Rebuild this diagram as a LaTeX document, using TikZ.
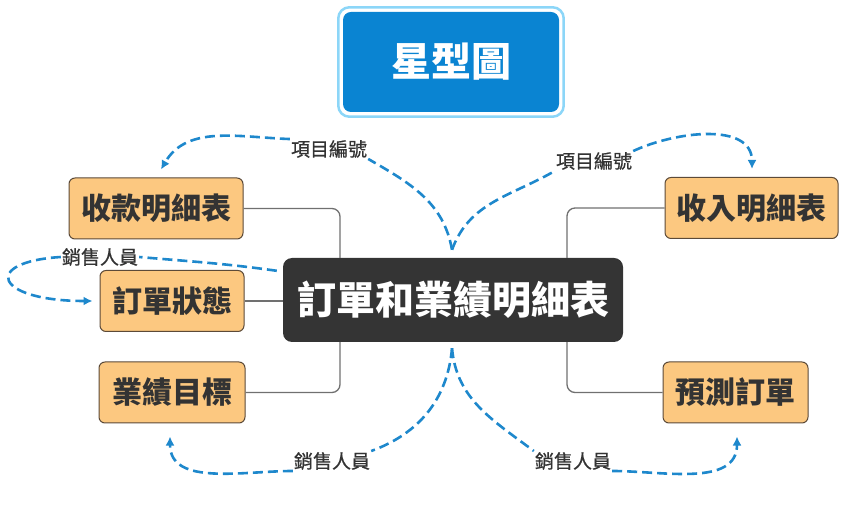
\documentclass[tikz,border=0pt]{standalone}
\usepackage{fontspec}
\usetikzlibrary{arrows.meta}
\newfontfamily\cjk{Noto Sans CJK TC}
\newfontfamily\cjktag{Noto Sans CJK TC}[FakeBold=0.7]
\definecolor{flowblue}{RGB}{30,136,204}
\definecolor{titleblue}{RGB}{10,132,210}
\definecolor{titleedge}{RGB}{140,214,248}
\definecolor{mainfill}{RGB}{52,52,52}
\definecolor{leaffill}{RGB}{252,200,128}
\definecolor{leafedge}{RGB}{92,74,56}
\definecolor{darktext}{RGB}{51,51,51}
\definecolor{linkgray}{RGB}{112,112,112}

\begin{document}
\begin{tikzpicture}[x=1pt,y=1pt,
    leaf/.style={draw=leafedge, line width=1pt, fill=leaffill, rounded corners=6pt, text=darktext, inner sep=0pt, minimum height=61pt, font=\cjk\bfseries\fontsize{30}{30}\selectfont},
    tag/.style={fill=white, inner sep=1pt, text=darktext, font=\cjktag\fontsize{19}{19}\selectfont},
    link/.style={draw=linkgray, line width=1.3pt, rounded corners=8pt},
    flow/.style={draw=flowblue, line width=2.6pt, dash pattern=on 10pt off 5pt, -{Latex[length=9pt,width=9pt]}},
    flowin/.style={draw=flowblue, line width=2.6pt, dash pattern=on 10pt off 5pt}]
    \useasboundingbox (0,0) rectangle (866,527);
    \node [fill=titleblue, rounded corners=8pt, minimum width=216pt, minimum height=100pt, inner sep=0pt, text=white, font=\cjk\bfseries\fontsize{40}{40}\selectfont] (title) at (451,465) {星型圖};
    \draw [titleedge, line width=2.5pt, rounded corners=11pt] ([shift={(-4.5,4.5)}]title.north west) rectangle ([shift={(4.5,-4.5)}]title.south east);
    \node [fill=mainfill, rounded corners=9pt, minimum width=340pt, minimum height=84pt, inner sep=0pt, text=white, font=\cjk\bfseries\fontsize{39}{39}\selectfont] (main) at (453,227) {訂單和業績明細表};
    \node [leaf, minimum width=174pt] (pay) at (156,318.5) {收款明細表};
    \node [leaf, minimum width=144pt] (stat) at (172,226) {訂單狀態};
    \node [leaf, minimum width=146pt] (goal) at (172,134.5) {業績目標};
    \node [leaf, minimum width=173pt] (inc) at (751.5,319) {收入明細表};
    \node [leaf, minimum width=145pt] (fcst) at (735.5,134.5) {預測訂單};
    \draw [link] (pay.east) -| ([xshift=-113pt]main.north);
    \draw [link] (stat.east) -- (stat.east -| main.west);
    \draw [link] (goal.east) -| ([xshift=-113pt]main.south);
    \draw [link] (inc.west) -| ([xshift=114pt]main.north);
    \draw [link] (fcst.west) -| ([xshift=114pt]main.south);
    \coordinate (hubT) at ([shift={(-1,8)}]main.north);
    \coordinate (hubB) at ([shift={(-1,-6)}]main.south);
    \coordinate (hubL) at ([shift={(-6,-13)}]main.north west);
    \coordinate (tipA) at ([shift={(5,8)}]pay.north);
    \coordinate (tipB) at ([shift={(0.5,8)}]inc.north);
    \coordinate (tipC) at ([xshift=-7pt]stat.west);
    \coordinate (tipD) at ([shift={(-2,-13)}]goal.south);
    \coordinate (tipE) at ([shift={(1.5,-13)}]fcst.south);
    \node [tag] (itemL) at (329,378) {項目編號};
    \node [tag] (itemR) at (594,366) {項目編號};
    \node [tag] (saleC) at (100,270) {銷售人員};
    \node [tag] (saleD) at (332,66) {銷售人員};
    \node [tag] (saleE) at (573,66) {銷售人員};
    \draw [flowin] (hubT) to[out=100, in=-30] (itemL.south east);
    \draw [flow] (itemL.north west) to[out=178, in=60] (tipA);
    \draw [flowin] (hubT) to[out=70, in=-150] (itemR.south west);
    \draw [flow] (itemR.north east) to[out=25, in=90] (tipB);
    \draw [flowin] (hubL) to[out=172, in=-5] (saleC.east);
    \draw [flow] (saleC.west) .. controls +(-80,-5) and +(-98,0) .. (tipC);
    \draw [flowin] (hubB) to[out=-95, in=20] (saleD.north east);
    \draw [flow] (saleD.south west) to[out=180, in=-90] (tipD);
    \draw [flowin] (hubB) to[out=-85, in=143] (saleE.north west);
    \draw [flow] (saleE.south east) to[out=0, in=-90] (tipE);
\end{tikzpicture}
\end{document}
